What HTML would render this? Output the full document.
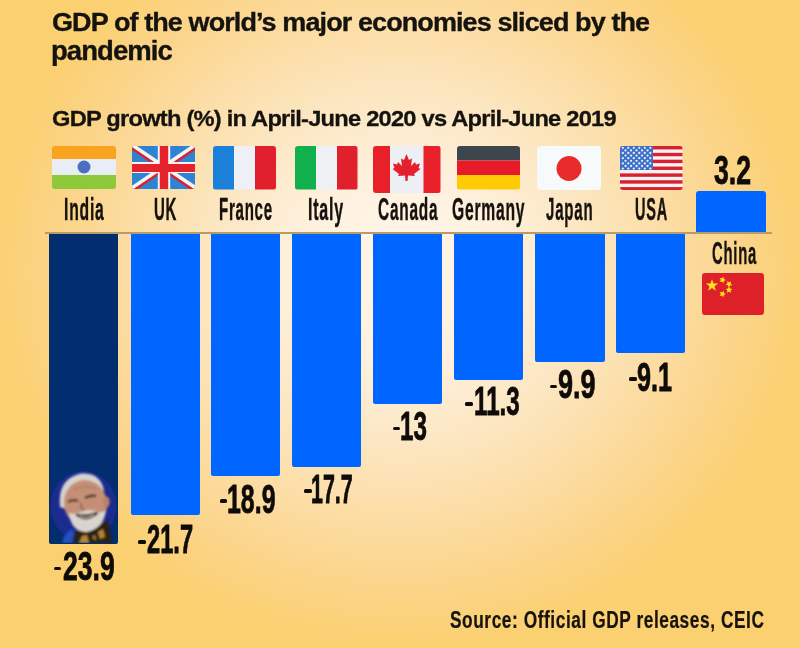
<!DOCTYPE html>
<html><head><meta charset="utf-8">
<style>
html,body{margin:0;padding:0}
body{width:800px;height:648px;overflow:hidden;position:relative;font-family:"Liberation Sans",sans-serif;background:radial-gradient(ellipse 430px 400px at 400px 270px,#FFF7EC 0%,#FEF0DC 25%,#FCE6C0 45%,#FCDEA8 60%,#FBD488 80%,#FBD070 95%) #FBD070}
.a{position:absolute;display:block}
.t{position:absolute;font-family:"Liberation Sans",sans-serif;font-weight:bold;font-size:60px;line-height:1;white-space:nowrap;transform-origin:0 0}
</style></head>
<body>
<div class="a" style="left:44.5px;top:232px;width:727.5px;height:1.5px;background:#B89C68"></div>
<div class="a" style="left:49px;top:233.5px;width:68.5px;height:310px;background:#022D6E;border-radius:0 0 2px 2px"></div><div class="a" style="left:131px;top:233.5px;width:69px;height:281px;background:#0066FF;border-radius:0 0 2px 2px"></div><div class="a" style="left:211px;top:233.5px;width:69px;height:242.5px;background:#0066FF;border-radius:0 0 2px 2px"></div><div class="a" style="left:291.5px;top:233.5px;width:69.5px;height:233px;background:#0066FF;border-radius:0 0 2px 2px"></div><div class="a" style="left:373px;top:233.5px;width:69px;height:170px;background:#0066FF;border-radius:0 0 2px 2px"></div><div class="a" style="left:453.5px;top:233.5px;width:69.5px;height:146.5px;background:#0066FF;border-radius:0 0 2px 2px"></div><div class="a" style="left:535px;top:233.5px;width:69.5px;height:128px;background:#0066FF;border-radius:0 0 2px 2px"></div><div class="a" style="left:615.5px;top:233.5px;width:69.5px;height:119.5px;background:#0066FF;border-radius:0 0 2px 2px"></div><div class="a" style="left:696.2px;top:191.2px;width:69.8px;height:41.3px;background:#0066FF;border-radius:3px 3px 0 0"></div>
<svg class="a" style="left:49px;top:465px" width="69" height="78" viewBox="1 0 69 78"><defs><filter id="bl" x="-20%" y="-20%" width="140%" height="140%"><feGaussianBlur stdDeviation="0.8"/></filter></defs><ellipse cx="35.5" cy="41" rx="33" ry="35" fill="#1C2B8E"/><g filter="url(#bl)"><path d="M14,78 Q16,68 24,64 L30,78 Z" fill="#2451C4"/><path d="M24,78 L27,66 Q44,63 60,55 L64,78 Z" fill="#2C2218"/><path d="M31,78 L34,71 L39,70 L41,78 Z M50,67 L55,64 L57,72 L52,74 Z M44,72 L47,70 L48,76 Z" fill="#B8862E"/><path d="M12,42 Q9,14 33,8.5 Q52,7 56,25 L53,30 Q44,15 24,20 Q16,28 18,44 Z" fill="#D6D3CF"/><ellipse cx="37.5" cy="38.5" rx="21.5" ry="23.5" fill="#C48F76" transform="rotate(-10 37.5 38.5)"/><ellipse cx="58.5" cy="37" rx="3.2" ry="5.5" fill="#B98268"/><path d="M21,48 Q23,67 39,67 Q56,63 58,45 Q54,49 48,46 Q40,44 33,47 Q26,50 21,48 Z" fill="#D8D5D0"/><path d="M29,50 Q39,57 49,48 Q39,52 29,50 Z" fill="#4A2820" stroke="#4A2820" stroke-width="2.6" stroke-linejoin="round"/><path d="M32,51.5 Q39,53.5 46,50" stroke="#E6DED2" stroke-width="1.1" fill="none"/><path d="M20,37 Q25,34 30,36 M37,33 Q42,30 48,31" stroke="#50301F" stroke-width="2.3" fill="none"/><path d="M33,38 Q32,43 36,45" stroke="#8A5A44" stroke-width="1.5" fill="none"/><path d="M26,24 Q36,20 48,23" stroke="#A8725A" stroke-width="1" fill="none"/></g></svg>
<svg class="a" style="left:52px;top:146px;border-radius:3px" width="64" height="43" viewBox="0 0 64 43" preserveAspectRatio="none"><rect width="64" height="13" fill="#F9A31F"/><rect y="13" width="64" height="16" fill="#E9EEF6"/><rect y="29" width="64" height="14" fill="#8DC93A"/><circle cx="32" cy="21" r="6.5" fill="#4A6FBF"/></svg><svg class="a" style="left:131.5px;top:146px;border-radius:3px" width="63.5" height="43" viewBox="0 0 64 43" preserveAspectRatio="none"><rect width="64" height="43" fill="#2E84D2"/><path d="M0,0 L64,43 M64,0 L0,43" stroke="#F4F4F4" stroke-width="5.5"/><path d="M0,0 L32,21.5 M64,43 L32,21.5" stroke="#D8202E" stroke-width="2.5" transform="translate(-1.5,1.5)"/><path d="M64,0 L32,21.5 M0,43 L32,21.5" stroke="#D8202E" stroke-width="2.5" transform="translate(1.5,1.5)"/><rect x="26" width="12.5" height="43" fill="#F4F4F4"/><rect y="16" width="64" height="11" fill="#F4F4F4"/><rect x="28" width="8.5" height="43" fill="#E5222C"/><rect y="18" width="64" height="8" fill="#E5222C"/></svg><svg class="a" style="left:212.5px;top:146px;border-radius:3px" width="63" height="43.5" viewBox="0 0 63 43.5" preserveAspectRatio="none"><rect width="21" height="43.5" fill="#1D80D8"/><rect x="21" width="21" height="43.5" fill="#EEF0F6"/><rect x="42" width="21" height="43.5" fill="#E0202D"/></svg><svg class="a" style="left:295px;top:146px;border-radius:3px" width="62.5" height="43.5" viewBox="0 0 62.5 43.5" preserveAspectRatio="none"><rect width="21" height="43.5" fill="#12B04C"/><rect x="21" width="21" height="43.5" fill="#EEF0F4"/><rect x="42" width="20.5" height="43.5" fill="#E0212D"/></svg><svg class="a" style="left:373px;top:146px;border-radius:3px" width="67.5" height="47" viewBox="0 0 67.5 47" preserveAspectRatio="none"><rect width="67.5" height="47" fill="#EDEFF5"/><rect width="17" height="47" fill="#E8202A"/><rect x="50.5" width="17" height="47" fill="#E8202A"/><path fill="#E3202C" d="M33.5,8 L36,14 L39,12.5 L38,20 L42,16 L43,18.5 L47,17.5 L45.5,22 L47.5,23 L41,28 L42,30 L35,29.5 L34.5,35 L32.5,35 L32,29.5 L25,30 L26,28 L19.5,23 L21.5,22 L20,17.5 L24,18.5 L25,16 L29,20 L28,12.5 L31,14 Z"/></svg><svg class="a" style="left:456.5px;top:146px;border-radius:3px" width="63" height="43.5" viewBox="0 0 63 43.5" preserveAspectRatio="none"><rect width="63" height="14.5" fill="#3D464C"/><rect y="14.5" width="63" height="14.5" fill="#E81A2A"/><rect y="29" width="63" height="14.5" fill="#FFCB05"/></svg><svg class="a" style="left:536.5px;top:145.5px;border-radius:3px" width="64.5" height="44" viewBox="0 0 64.5 44" preserveAspectRatio="none"><rect width="64.5" height="44" fill="#F7FAFB"/><circle cx="32" cy="22.5" r="12.5" fill="#E82C2C"/></svg><svg class="a" style="left:620px;top:145.5px;border-radius:3px" width="62.5" height="44.5" viewBox="0 0 62.5 44.5" preserveAspectRatio="none"><rect width="62.5" height="44.5" fill="#F3F3F5"/><rect y="0.00" width="62.5" height="3.42" fill="#D9202C"/><rect y="6.85" width="62.5" height="3.42" fill="#D9202C"/><rect y="13.69" width="62.5" height="3.42" fill="#D9202C"/><rect y="20.54" width="62.5" height="3.42" fill="#D9202C"/><rect y="27.38" width="62.5" height="3.42" fill="#D9202C"/><rect y="34.23" width="62.5" height="3.42" fill="#D9202C"/><rect y="41.08" width="62.5" height="3.42" fill="#D9202C"/><rect width="33" height="23.96" fill="#3D6FC8"/><circle cx="2.80" cy="1.80" r="1.15" fill="#E8EEF8"/><circle cx="8.30" cy="1.80" r="1.15" fill="#E8EEF8"/><circle cx="13.80" cy="1.80" r="1.15" fill="#E8EEF8"/><circle cx="19.30" cy="1.80" r="1.15" fill="#E8EEF8"/><circle cx="24.80" cy="1.80" r="1.15" fill="#E8EEF8"/><circle cx="30.30" cy="1.80" r="1.15" fill="#E8EEF8"/><circle cx="5.55" cy="4.40" r="1.15" fill="#E8EEF8"/><circle cx="11.05" cy="4.40" r="1.15" fill="#E8EEF8"/><circle cx="16.55" cy="4.40" r="1.15" fill="#E8EEF8"/><circle cx="22.05" cy="4.40" r="1.15" fill="#E8EEF8"/><circle cx="27.55" cy="4.40" r="1.15" fill="#E8EEF8"/><circle cx="2.80" cy="7.00" r="1.15" fill="#E8EEF8"/><circle cx="8.30" cy="7.00" r="1.15" fill="#E8EEF8"/><circle cx="13.80" cy="7.00" r="1.15" fill="#E8EEF8"/><circle cx="19.30" cy="7.00" r="1.15" fill="#E8EEF8"/><circle cx="24.80" cy="7.00" r="1.15" fill="#E8EEF8"/><circle cx="30.30" cy="7.00" r="1.15" fill="#E8EEF8"/><circle cx="5.55" cy="9.60" r="1.15" fill="#E8EEF8"/><circle cx="11.05" cy="9.60" r="1.15" fill="#E8EEF8"/><circle cx="16.55" cy="9.60" r="1.15" fill="#E8EEF8"/><circle cx="22.05" cy="9.60" r="1.15" fill="#E8EEF8"/><circle cx="27.55" cy="9.60" r="1.15" fill="#E8EEF8"/><circle cx="2.80" cy="12.20" r="1.15" fill="#E8EEF8"/><circle cx="8.30" cy="12.20" r="1.15" fill="#E8EEF8"/><circle cx="13.80" cy="12.20" r="1.15" fill="#E8EEF8"/><circle cx="19.30" cy="12.20" r="1.15" fill="#E8EEF8"/><circle cx="24.80" cy="12.20" r="1.15" fill="#E8EEF8"/><circle cx="30.30" cy="12.20" r="1.15" fill="#E8EEF8"/><circle cx="5.55" cy="14.80" r="1.15" fill="#E8EEF8"/><circle cx="11.05" cy="14.80" r="1.15" fill="#E8EEF8"/><circle cx="16.55" cy="14.80" r="1.15" fill="#E8EEF8"/><circle cx="22.05" cy="14.80" r="1.15" fill="#E8EEF8"/><circle cx="27.55" cy="14.80" r="1.15" fill="#E8EEF8"/><circle cx="2.80" cy="17.40" r="1.15" fill="#E8EEF8"/><circle cx="8.30" cy="17.40" r="1.15" fill="#E8EEF8"/><circle cx="13.80" cy="17.40" r="1.15" fill="#E8EEF8"/><circle cx="19.30" cy="17.40" r="1.15" fill="#E8EEF8"/><circle cx="24.80" cy="17.40" r="1.15" fill="#E8EEF8"/><circle cx="30.30" cy="17.40" r="1.15" fill="#E8EEF8"/><circle cx="5.55" cy="20.00" r="1.15" fill="#E8EEF8"/><circle cx="11.05" cy="20.00" r="1.15" fill="#E8EEF8"/><circle cx="16.55" cy="20.00" r="1.15" fill="#E8EEF8"/><circle cx="22.05" cy="20.00" r="1.15" fill="#E8EEF8"/><circle cx="27.55" cy="20.00" r="1.15" fill="#E8EEF8"/><circle cx="2.80" cy="22.60" r="1.15" fill="#E8EEF8"/><circle cx="8.30" cy="22.60" r="1.15" fill="#E8EEF8"/><circle cx="13.80" cy="22.60" r="1.15" fill="#E8EEF8"/><circle cx="19.30" cy="22.60" r="1.15" fill="#E8EEF8"/><circle cx="24.80" cy="22.60" r="1.15" fill="#E8EEF8"/><circle cx="30.30" cy="22.60" r="1.15" fill="#E8EEF8"/></svg><svg class="a" style="left:702px;top:272.5px;border-radius:3px" width="62" height="42" viewBox="0 0 62 42" preserveAspectRatio="none"><rect width="62" height="42" fill="#DE2029"/><polygon fill="#FFE01A" points="10.00,6.00 11.53,10.40 16.18,10.49 12.47,13.30 13.82,17.76 10.00,15.10 6.18,17.76 7.53,13.30 3.82,10.49 8.47,10.40"/><polygon fill="#FFE01A" points="21.66,3.81 21.91,6.05 23.90,7.12 21.84,8.05 21.44,10.27 19.92,8.60 17.68,8.90 18.80,6.94 17.82,4.91 20.03,5.37"/><polygon fill="#FFE01A" points="29.19,8.40 28.65,10.59 30.15,12.27 27.90,12.44 26.76,14.39 25.91,12.30 23.70,11.82 25.42,10.36 25.20,8.12 27.12,9.30"/><polygon fill="#FFE01A" points="27.00,13.60 28.00,15.62 30.23,15.95 28.62,17.53 29.00,19.75 27.00,18.70 25.00,19.75 25.38,17.53 23.77,15.95 26.00,15.62"/><polygon fill="#FFE01A" points="21.66,17.81 21.91,20.05 23.90,21.12 21.84,22.05 21.44,24.27 19.92,22.60 17.68,22.90 18.80,20.94 17.82,18.91 20.03,19.37"/></svg>
<div class="t" style="left:51.60px;top:9.12px;transform:scale(0.4498,0.4427);-webkit-text-stroke:0.8px #15130F;letter-spacing:-2px;color:#15130F">GDP of the world’s major economies sliced by the</div><div class="t" style="left:51.17px;top:37.02px;transform:scale(0.4579,0.4516);-webkit-text-stroke:0.8px #15130F;letter-spacing:-2px;color:#15130F">pandemic</div><div class="t" style="left:51.61px;top:106.55px;transform:scale(0.3950,0.3829);-webkit-text-stroke:0.8px #15130F;letter-spacing:-2px;color:#15130F">GDP growth (%) in April-June 2020 vs April-June 2019</div><div class="t" style="left:63.70px;top:193.94px;transform:scale(0.2617,0.5293);-webkit-text-stroke:0.8px #17120D;letter-spacing:3px;color:#17120D">India</div><div class="t" style="left:154.25px;top:193.94px;transform:scale(0.2500,0.5293);-webkit-text-stroke:0.8px #17120D;letter-spacing:3px;color:#17120D">UK</div><div class="t" style="left:218.60px;top:193.94px;transform:scale(0.2507,0.5293);-webkit-text-stroke:0.8px #17120D;letter-spacing:3px;color:#17120D">France</div><div class="t" style="left:307.83px;top:193.94px;transform:scale(0.2664,0.5293);-webkit-text-stroke:0.8px #17120D;letter-spacing:3px;color:#17120D">Italy</div><div class="t" style="left:377.99px;top:194.18px;transform:scale(0.2565,0.5244);-webkit-text-stroke:0.8px #17120D;letter-spacing:3px;color:#17120D">Canada</div><div class="t" style="left:451.78px;top:193.98px;transform:scale(0.2609,0.5244);-webkit-text-stroke:0.8px #17120D;letter-spacing:3px;color:#17120D">Germany</div><div class="t" style="left:546.15px;top:193.94px;transform:scale(0.2514,0.5293);-webkit-text-stroke:0.8px #17120D;letter-spacing:3px;color:#17120D">Japan</div><div class="t" style="left:634.87px;top:193.94px;transform:scale(0.2422,0.5293);-webkit-text-stroke:0.8px #17120D;letter-spacing:3px;color:#17120D">USA</div><div class="t" style="left:711.71px;top:237.50px;transform:scale(0.2475,0.5220);-webkit-text-stroke:0.8px #17120D;letter-spacing:3px;color:#17120D">China</div><div class="t" style="left:63.06px;top:546.01px;transform:scale(0.4430,0.6860);-webkit-text-stroke:1.2px #0E0B08;color:#0E0B08">23.9</div><div class="t" style="left:147.11px;top:519.70px;transform:scale(0.3947,0.6628);-webkit-text-stroke:1.2px #0E0B08;color:#0E0B08">21.7</div><div class="t" style="left:226.75px;top:478.60px;transform:scale(0.4152,0.6744);-webkit-text-stroke:1.2px #0E0B08;color:#0E0B08">18.9</div><div class="t" style="left:311.43px;top:468.60px;transform:scale(0.3571,0.6744);-webkit-text-stroke:1.2px #0E0B08;color:#0E0B08">17.7</div><div class="t" style="left:399.79px;top:405.60px;transform:scale(0.4032,0.6744);-webkit-text-stroke:1.2px #0E0B08;color:#0E0B08">13</div><div class="t" style="left:473.79px;top:380.51px;transform:scale(0.4037,0.6860);-webkit-text-stroke:1.2px #0E0B08;color:#0E0B08">11.3</div><div class="t" style="left:558.10px;top:363.60px;transform:scale(0.4500,0.6744);-webkit-text-stroke:1.2px #0E0B08;color:#0E0B08">9.9</div><div class="t" style="left:636.66px;top:356.60px;transform:scale(0.4188,0.6744);-webkit-text-stroke:1.2px #0E0B08;color:#0E0B08">9.1</div><div class="t" style="left:714.06px;top:149.60px;transform:scale(0.4444,0.6744);-webkit-text-stroke:1.2px #0E0B08;color:#0E0B08">3.2</div><div class="t" style="left:449.71px;top:606.89px;transform:scale(0.2878,0.4122);-webkit-text-stroke:0.6px #17120D;letter-spacing:2px;color:#17120D">Source: Official GDP releases, CEIC</div><div class="a" style="left:53.7px;top:566.6px;width:7.5px;height:3.7px;border-radius:1.5px;background:#0E0B08"></div><div class="a" style="left:138px;top:540px;width:7.5px;height:3.7px;border-radius:1.5px;background:#0E0B08"></div><div class="a" style="left:219.5px;top:499px;width:7.5px;height:3.7px;border-radius:1.5px;background:#0E0B08"></div><div class="a" style="left:304px;top:489px;width:7.5px;height:3.7px;border-radius:1.5px;background:#0E0B08"></div><div class="a" style="left:392.5px;top:426.5px;width:7.5px;height:3.7px;border-radius:1.5px;background:#0E0B08"></div><div class="a" style="left:465px;top:402px;width:7.5px;height:3.7px;border-radius:1.5px;background:#0E0B08"></div><div class="a" style="left:549.5px;top:384.5px;width:7.5px;height:3.7px;border-radius:1.5px;background:#0E0B08"></div><div class="a" style="left:629px;top:377px;width:7.5px;height:3.7px;border-radius:1.5px;background:#0E0B08"></div>
</body></html>
